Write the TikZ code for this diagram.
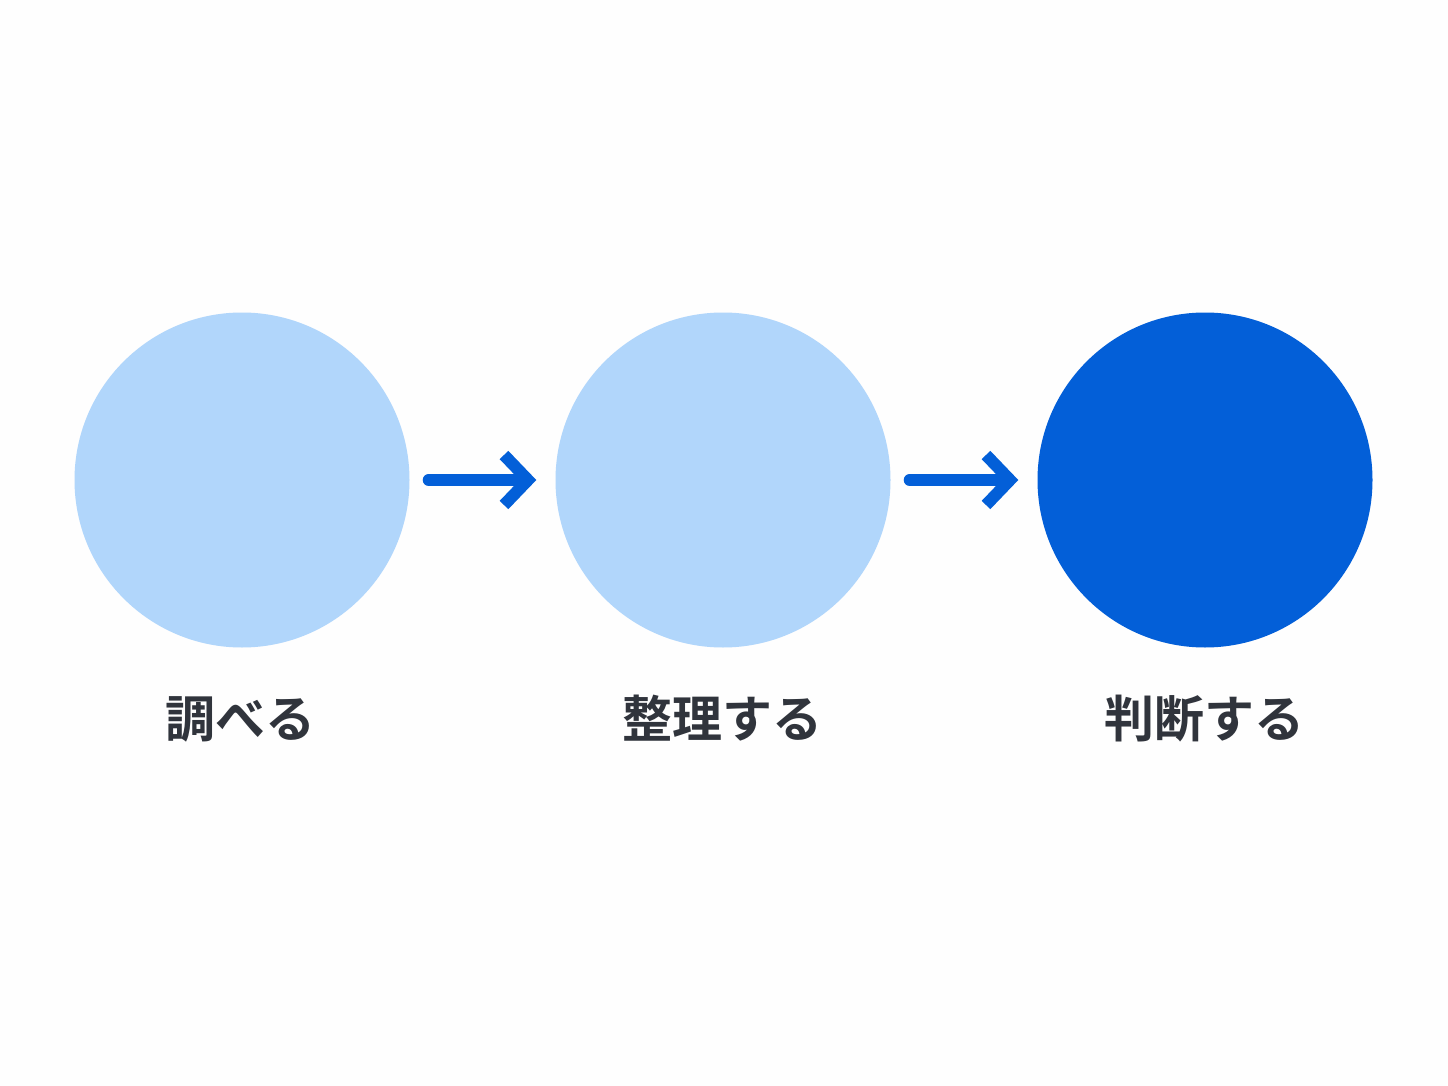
\documentclass[tikz,border=0pt]{standalone}
\usepackage{fontspec}
\newfontfamily\jpfont{Noto Sans CJK JP}[BoldFont={Noto Sans CJK JP Bold}]
\usepackage{xcolor}
\definecolor{lightblue}{HTML}{B1D6FB}
\definecolor{darkblue}{HTML}{035FD8}
\definecolor{textgray}{HTML}{30343C}
\usetikzlibrary{arrows.meta}

\begin{document}
\begin{tikzpicture}[x=1pt, y=-1pt]
        \useasboundingbox[fill=white!99!gray] (0, 0) rectangle (1448, 1086);

        % Nodes
        \node[circle, fill=lightblue, minimum size=335pt, inner sep=0pt] (1) at (242, 480) {};
        \node[circle, fill=lightblue, minimum size=335pt, inner sep=0pt] (2) at (723, 480) {};
        \node[circle, fill=darkblue, minimum size=335pt, inner sep=0pt] (3) at (1205, 480) {};

        % Edges
        \draw[darkblue, line width=12pt, line cap=round, -{Straight Barb[length=24pt, width=50pt]}, shorten <=19pt, shorten >=19pt] (1) -- (2);
        \draw[darkblue, line width=12pt, line cap=round, -{Straight Barb[length=24pt, width=50pt]}, shorten <=19pt, shorten >=19pt] (2) -- (3);

        % Labels
        \node[anchor=base, text=textgray, font=\jpfont\bfseries\fontsize{50}{56}\selectfont] (l1) at (240, 737) {調べる};
        \node[anchor=base, text=textgray, font=\jpfont\bfseries\fontsize{50}{56}\selectfont] (l2) at (722, 737) {整理する};
        \node[anchor=base, text=textgray, font=\jpfont\bfseries\fontsize{50}{56}\selectfont] (l3) at (1204, 737) {判断する};
    \end{tikzpicture}
\end{document}
